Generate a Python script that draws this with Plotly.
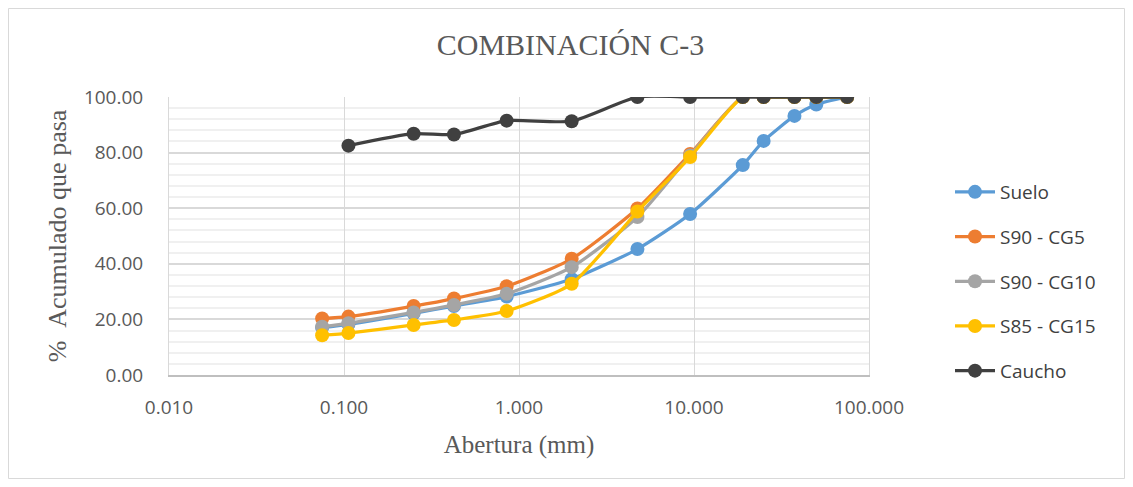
import plotly.graph_objects as go

sizes = [0.075, 0.106, 0.25, 0.425, 0.85, 2.0, 4.75, 9.5, 19.0, 25.0, 37.5, 50.0, 75.0]
suelo = [17.0, 18.2, 22.2, 24.8, 28.2, 34.5, 45.3, 57.9, 75.5, 84.2, 93.2, 97.3, 100.0]
s90_cg5 = [20.3, 21.0, 24.8, 27.5, 31.9, 41.8, 59.9, 79.5, 100.0, 100.0, 100.0, 100.0, 100.0]
s90_cg10 = [17.4, 18.6, 22.5, 25.2, 29.2, 38.8, 56.8, 79.0, 100.0, 100.0, 100.0, 100.0, 100.0]
s85_cg15 = [14.3, 15.1, 18.0, 19.8, 23.0, 32.8, 58.8, 78.4, 100.0, 100.0, 100.0, 100.0, 100.0]
caucho_sizes = [0.106, 0.25, 0.425, 0.85, 2.0, 4.75, 9.5, 19.0, 25.0, 37.5, 50.0, 75.0]
caucho = [82.5, 86.8, 86.5, 91.5, 91.3, 100.0, 100.0, 100.0, 100.0, 100.0, 100.0, 100.0]

x_tickvals = [0.01, 0.1, 1, 10, 100]
x_ticktext = ["0.010", "0.100", "1.000", "10.000", "100.000"]

series = [
    ("Suelo", sizes, suelo, "#5B9BD5"),
    ("S90 - CG5", sizes, s90_cg5, "#ED7D31"),
    ("S90 - CG10", sizes, s90_cg10, "#A5A5A5"),
    ("S85 - CG15", sizes, s85_cg15, "#FFC000"),
    ("Caucho", caucho_sizes, caucho, "#404040"),
]

fig = go.Figure()
for name, xs, ys, col in series:
    fig.add_trace(go.Scatter(
        x=xs, y=ys, name=name, mode="lines+markers", legendgroup=name,
        line=dict(color=col, width=3.25, shape="spline", smoothing=0.6),
        marker=dict(color=col, size=14),
    ))

# page is offset by the 8px body margin
OFF = 8
W, H = 1133 - OFF, 487 - OFF
L, R, T, B = 169 - OFF, 869 - OFF, 97 - OFF, 375 - OFF

def px_x(p):
    return (p - OFF - L) / (R - L)

def px_y(p):
    return (B - (p - OFF)) / (B - T)

fig.update_layout(
    width=W, height=H,
    margin=dict(l=L, r=W - R, t=T, b=H - B),
    paper_bgcolor="white", plot_bgcolor="white",
    title=dict(text="COMBINACIÓN C-3", x=0.5, xanchor="center", y=1 - (44 - OFF) / H, yanchor="middle",
               font=dict(family="Liberation Serif, serif", size=30, color="#595959")),
    legend=dict(x=px_x(950), xanchor="left", y=px_y(173), yanchor="top",
                font=dict(family="Open Sans, sans-serif", size=19, color="#404040"),
                tracegroupgap=17, bgcolor="rgba(0,0,0,0)", itemwidth=40),
    showlegend=True,
    font=dict(family="Open Sans, sans-serif", color="#595959"),
)

fig.update_xaxes(
    type="log", range=[-2, 2], tickvals=x_tickvals, ticktext=x_ticktext,
    showgrid=True, gridcolor="#D9D9D9", gridwidth=1,
    showline=True, linecolor="#BFBFBF", linewidth=1.5, mirror=False,
    ticks="", ticklabelstandoff=14, zeroline=False,
    tickfont=dict(family="Open Sans, sans-serif", size=19, color="#595959"),
    title=dict(text="Abertura (mm)", standoff=17,
               font=dict(family="Liberation Serif, serif", size=25, color="#595959")),
)
fig.update_yaxes(
    range=[0, 100], dtick=20, tickformat=".2f",
    showgrid=True, gridcolor="#D9D9D9", gridwidth=1.5,
    minor=dict(dtick=4, showgrid=True, gridcolor="#F0F0F0", gridwidth=1.5),
    showline=True, linecolor="#D9D9D9", linewidth=1, mirror=True,
    zeroline=False, ticks="", ticklabelstandoff=21,
    tickfont=dict(family="Open Sans, sans-serif", size=19, color="#595959"),
    title=dict(text="%\u00a0\u00a0Acumulado que pasa", standoff=9,
               font=dict(family="Liberation Serif, serif", size=26, color="#595959")),
)

# outer chart border
fig.add_shape(type="rect", xref="paper", yref="paper",
              x0=px_x(8.5), x1=px_x(1124.5),
              y0=px_y(478.5), y1=px_y(8.5),
              line=dict(color="#D9D9D9", width=1), fillcolor="rgba(0,0,0,0)", layer="below")

fig.write_html("out.html")
